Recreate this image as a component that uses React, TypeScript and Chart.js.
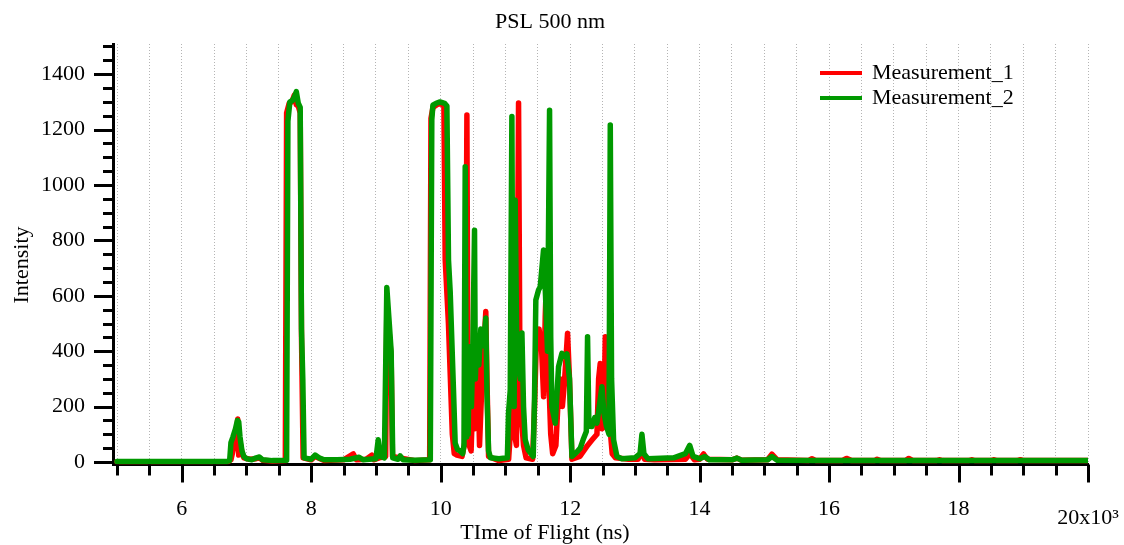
import React, { useEffect, useRef } from 'react';
import { Chart, registerables } from 'chart.js';

Chart.register(...registerables);

const FONT = '"Liberation Serif", "Times New Roman", serif';

// Measurement_1 (red)
const m1Time = [
  5000, 6720, 6760, 6800, 6840, 6865, 6880, 6895, 6930, 6960, 7050, 7150, 7200, 7250, 7400, 7600,
  7620, 7660, 7700, 7740, 7770, 7800, 7830, 7850, 7875, 8000, 8060, 8200, 8500, 8650, 8700, 8850,
  8936, 8970, 9050, 9150, 9168, 9200, 9235, 9255, 9374, 9600, 9830, 9850, 9880, 9940, 10000, 10050,
  10070, 10120, 10180, 10210, 10250, 10330, 10380, 10405, 10420, 10440, 10470, 10500, 10530, 10566,
  10600, 10640, 10670, 10697, 10715, 10740, 10900, 11050, 11080, 11110, 11140, 11170, 11203, 11225,
  11250, 11280, 11320, 11420, 11450, 11480, 11520, 11560, 11590, 11615, 11640, 11670, 11700, 11730,
  11780, 11820, 11850, 11880, 11910, 11960, 11990, 12028, 12150, 12269, 12340, 12414, 12440, 12465,
  12490, 12520, 12543, 12570, 12610, 12650, 12700, 12900, 13050, 13100, 13150, 13300, 13780, 13850,
  13920, 14000, 14062, 14120, 14500, 14577, 14650, 15050, 15117, 15200, 15680, 15736, 15800, 16200,
  16268, 16350, 16700, 16742, 16800, 17180, 17232, 17300, 17650, 17700, 17760, 18150, 18200, 18260,
  18500, 18540, 18600, 18900, 18956, 19010, 20000,
];
const m1Intensity = [
  1, 2, 8, 50, 90, 155, 25, 80, 35, 15, 10, 12, 15, 6, 4, 5,
  1260, 1295, 1300, 1325, 1290, 1285, 1260, 450, 15, 8, 20, 5, 8, 29, 8, 10,
  25, 8, 15, 20, 560, 480, 380, 20, 15, 5, 8, 1240, 1280, 1290, 1295, 1285,
  730, 500, 100, 30, 25, 20, 80, 1253, 300, 60, 40, 260, 120, 405,
  60, 300, 420, 543, 300, 20, 5, 10, 120, 380, 100, 60, 1296, 300,
  150, 60, 15, 10, 200, 450, 480, 400, 236, 524, 700, 300, 100, 30,
  60, 250, 300, 200, 280, 465, 300, 10, 20, 60, 80, 100, 300, 356,
  120, 150, 452, 120, 140, 30, 15, 10, 10, 40, 10, 8, 10, 30,
  8, 10, 29, 10, 8, 14, 6, 8, 28, 8, 5, 12, 5, 5,
  13, 5, 5, 10, 5, 5, 13, 5, 5, 8, 5, 5, 8, 5,
  5, 8, 5, 5, 8, 5, 5,
];

// Measurement_2 (green)
const m2Time = [
  5000, 6700, 6740, 6760, 6790, 6830, 6860, 6880, 6900, 6930, 6960, 7000, 7080, 7150, 7200, 7250,
  7400, 7620, 7640, 7670, 7710, 7740, 7770, 7800, 7830, 7850, 7870, 7890, 8000, 8060, 8120, 8200,
  8400, 8600, 8740, 8800, 9000, 9035, 9070, 9130, 9168, 9200, 9235, 9260, 9340, 9374, 9420, 9600,
  9840, 9863, 9880, 9930, 9990, 10060, 10096, 10121, 10147, 10198, 10224, 10260, 10300, 10340, 10360,
  10379, 10392, 10400, 10415, 10425, 10440, 10456, 10475, 10495, 10523, 10535, 10560, 10590, 10620,
  10650, 10680, 10697, 10715, 10740, 10770, 10900, 11030, 11048, 11075, 11100, 11115, 11135, 11151,
  11175, 11200, 11230, 11255, 11280, 11306, 11352, 11430, 11450, 11470, 11512, 11538, 11589, 11620,
  11650, 11682, 11700, 11718, 11770, 11821, 11873, 11920, 11950, 11990, 12028, 12100, 12156, 12200,
  12250, 12269, 12290, 12337, 12380, 12414, 12450, 12491, 12520, 12560, 12600, 12620, 12640, 12671,
  12723, 12800, 13000, 13080, 13109, 13140, 13200, 13600, 13780, 13847, 13900, 14000, 14080, 14150,
  14500, 14577, 14650, 15050, 15117, 15200, 16000, 17000, 18000, 20000,
];
const m2Intensity = [
  2, 2, 5, 70, 90, 120, 150, 145, 90, 40, 20, 12, 8, 15, 18, 8,
  5, 6, 1230, 1300, 1305, 1318, 1337, 1295, 1280, 480, 300, 15, 10, 25, 15, 8,
  8, 10, 17, 8, 12, 80, 20, 15, 630, 520, 400, 15, 10, 22, 8, 6,
  8, 1235, 1288, 1295, 1300, 1295, 1285, 729, 615, 260, 68, 45, 40, 30, 60,
  1066, 300, 90, 350, 100, 400, 416, 200, 380, 837, 300, 440, 350, 480,
  420, 470, 520, 250, 40, 15, 12, 15, 177, 260, 1247, 400, 200, 945,
  420, 350, 300, 466, 200, 80, 43, 20, 236, 585, 621, 633, 765, 600,
  400, 1270, 450, 200, 140, 344, 392, 380, 390, 300, 20, 35, 50, 80,
  110, 452, 130, 128, 160, 140, 200, 272, 180, 130, 100, 1217, 300, 80,
  20, 12, 15, 30, 100, 30, 12, 15, 30, 60, 20, 12, 20, 8,
  8, 14, 6, 8, 20, 6, 5, 5, 5, 5,
];

const xMajorTicks = [6000, 8000, 10000, 12000, 14000, 16000, 18000, 20000];
const xTickLabels = ['6', '8', '10', '12', '14', '16', '18', '20x10³'];
const yMajorTicks = [0, 200, 400, 600, 800, 1000, 1200, 1400];
const yTickLabels = ['0', '200', '400', '600', '800', '1000', '1200', '1400'];
const seriesNames = ['Measurement_1', 'Measurement_2'];
const seriesColors = ['#ff0000', '#009900'];

const X_MIN = 4938;
const X_MAX = 20000;
const Y_MIN = -9;
const Y_MAX = 1509;

function minorTicks(from: number, to: number, step: number) {
  const out: number[] = [];
  for (let v = from; v <= to + 1e-6; v += step) out.push(v);
  return out;
}
const xMinor = minorTicks(5000, 20000, 500);
const yMinor = minorTicks(0, 1500, 50);

const decorPlugin = {
  id: 'decor',
  afterDraw(chart: any) {
    const { ctx, chartArea, scales } = chart;
    const xs = scales.x;
    const ys = scales.y;
    ctx.save();
    ctx.strokeStyle = '#000';
    ctx.lineWidth = 3;
    ctx.lineCap = 'butt';
    const yb = chartArea.bottom;
    xMinor.forEach((v) => {
      const px = Math.round(xs.getPixelForValue(v)) + 0.5;
      const len = xMajorTicks.includes(v) ? 18 : 11;
      ctx.beginPath();
      ctx.moveTo(px, yb);
      ctx.lineTo(px, yb + len);
      ctx.stroke();
    });
    const xl = chartArea.left;
    yMinor.forEach((v) => {
      const py = Math.round(ys.getPixelForValue(v)) + 0.5;
      const len = yMajorTicks.includes(v) ? 19 : 10;
      ctx.beginPath();
      ctx.moveTo(xl, py);
      ctx.lineTo(xl - len, py);
      ctx.stroke();
    });
    ctx.fillStyle = '#000';
    ctx.font = `22px ${FONT}`;
    ctx.textAlign = 'center';
    ctx.textBaseline = 'middle';
    ctx.fillText('PSL 500 nm', 550, 22);
    ctx.fillText('TIme of Flight (ns)', 545, 533);
    ctx.save();
    ctx.translate(22, 265);
    ctx.rotate(-Math.PI / 2);
    ctx.fillText('Intensity', 0, 0);
    ctx.restore();
    ctx.textAlign = 'left';
    seriesNames.forEach((name, i) => {
      const ly = 73 + i * 25;
      ctx.strokeStyle = seriesColors[i];
      ctx.lineWidth = 4;
      ctx.beginPath();
      ctx.moveTo(820, ly);
      ctx.lineTo(862, ly);
      ctx.stroke();
      ctx.fillStyle = '#000';
      ctx.fillText(name, 872, ly);
    });
    ctx.restore();
  },
};

export default function App() {
  const ref = useRef<HTMLCanvasElement | null>(null);
  useEffect(() => {
    if (!ref.current) return;
    const chart = new Chart(ref.current, {
      type: 'line',
      data: {
        datasets: [
          {
            label: seriesNames[0],
            data: m1Time.map((x, i) => ({ x, y: m1Intensity[i] })),
            borderColor: seriesColors[0],
            backgroundColor: seriesColors[0],
            borderWidth: 5.5,
            pointRadius: 0,
            tension: 0,
            borderJoinStyle: 'round',
            borderCapStyle: 'round',
            order: 2,
          },
          {
            label: seriesNames[1],
            data: m2Time.map((x, i) => ({ x, y: m2Intensity[i] })),
            borderColor: seriesColors[1],
            backgroundColor: seriesColors[1],
            borderWidth: 5.5,
            pointRadius: 0,
            tension: 0,
            borderJoinStyle: 'round',
            borderCapStyle: 'round',
            order: 1,
          },
        ],
      },
      options: {
        responsive: false,
        animation: false,
        devicePixelRatio: 1,
        layout: { padding: { top: 44, right: 36, left: 0, bottom: 0 } },
        plugins: {
          legend: { display: false },
          title: { display: false },
          tooltip: { enabled: false },
        },
        scales: {
          x: {
            type: 'linear',
            min: X_MIN,
            max: X_MAX,
            afterBuildTicks: (s: any) => {
              s.ticks = xMinor.map((v) => ({ value: v }));
            },
            afterFit: (s: any) => {
              s.height = 80.5;
              s.paddingRight = 0;
              s.paddingLeft = 0;
            },
            grid: {
              display: true,
              drawTicks: false,
              color: '#b4b4b4',
              lineWidth: 1,
            },
            border: { display: true, color: '#000', width: 3, dash: [1, 2] },
            ticks: {
              autoSkip: false,
              maxRotation: 0,
              padding: 32,
              color: '#000',
              font: (c: any) =>
                c.tick && c.tick.value === 20000
                  ? { family: FONT, size: 22, lineHeight: 1.95 }
                  : { family: FONT, size: 22, lineHeight: 1.2 },
              callback: (v: any) => {
                const idx = xMajorTicks.indexOf(Number(v));
                return idx >= 0 ? xTickLabels[idx] : '';
              },
            },
          },
          y: {
            type: 'linear',
            min: Y_MIN,
            max: Y_MAX,
            afterBuildTicks: (s: any) => {
              s.ticks = yMinor.map((v) => ({ value: v }));
            },
            afterFit: (s: any) => {
              s.width = 113;
              s.paddingTop = 0;
              s.paddingBottom = 0;
            },
            grid: { display: false, drawTicks: false },
            border: { display: true, color: '#000', width: 3 },
            ticks: {
              autoSkip: false,
              padding: 28,
              color: '#000',
              font: { family: FONT, size: 22 },
              callback: (v: any) => {
                const idx = yMajorTicks.indexOf(Number(v));
                return idx >= 0 ? yTickLabels[idx] : '';
              },
            },
          },
        },
      } as any,
      plugins: [decorPlugin],
    });
    return () => chart.destroy();
  }, []);
  return (
    <div style={{ position: 'fixed', left: 0, top: 0, width: 1124, height: 545, background: '#fff' }}>
      <canvas ref={ref} width={1124} height={545} style={{ display: 'block' }} />
    </div>
  );
}
